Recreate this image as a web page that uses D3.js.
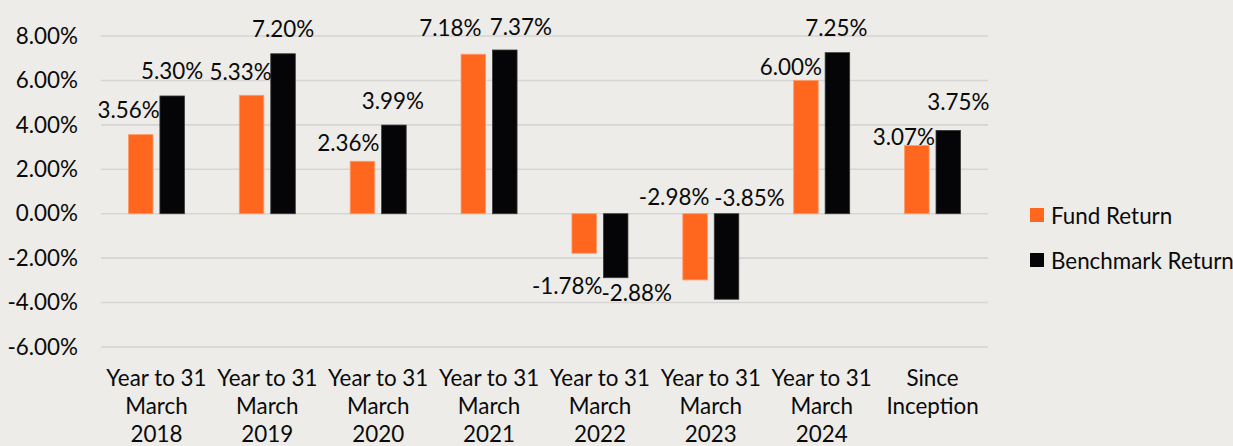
<!DOCTYPE html>
<html>
<head>
<meta charset="utf-8">
<script src="https://cdn.jsdelivr.net/npm/d3@7"></script>
<style>
  html, body { margin: 0; padding: 0; background: #EDECE8; }
  svg { display: block; }
  text { font-family: Lato, "Open Sans", sans-serif; fill: #0a0a0a; }
</style>
</head>
<body>
<svg id="chart" width="1233" height="446"></svg>
<script>
// ---- data ----
const categories = [
  ["Year to 31", "March", "2018"],
  ["Year to 31", "March", "2019"],
  ["Year to 31", "March", "2020"],
  ["Year to 31", "March", "2021"],
  ["Year to 31", "March", "2022"],
  ["Year to 31", "March", "2023"],
  ["Year to 31", "March", "2024"],
  ["Since", "Inception"]
];
const seriesNames = ["Fund Return", "Benchmark Return"];
const fundReturn = [3.56, 5.33, 2.36, 7.18, -1.78, -2.98, 6.00, 3.07];
const benchmarkReturn = [5.30, 7.20, 3.99, 7.37, -2.88, -3.85, 7.25, 3.75];
const yTicks = [-6, -4, -2, 0, 2, 4, 6, 8];

// ---- layout / style (not data) ----
const colors = ["#FF671F", "#050508"];
const strokes = ["#FF9A6A", "#3a3a3a"];
const fontSize = 22.4;
// manual label nudges (dx, dy) as placed in the original
const fundNudge = [[-12,0],[-11,1],[-14,6],[-23,-2],[-17,7],[-21,-108],[-15,11],[-13,16]];
const benchNudge = [[0,0],[0,0],[-1,0],[16,2],[21,-10],[23,-127],[-1,0],[10,-4]];

const svg = d3.select("#chart");
const plot = { left: 101, right: 988, top: 36, bottom: 347 };

const keys = categories.map((c, i) => "c" + i);
const x0 = d3.scaleBand().domain(keys).range([plot.left, plot.right]).paddingInner(0).paddingOuter(0);
const bw = x0.bandwidth();
const x1 = d3.scaleBand().domain(seriesNames)
  .range([bw / 2 - 28, bw / 2 + 28]).paddingInner(0.22).paddingOuter(0);
const y = d3.scaleLinear().domain([-6, 8]).range([plot.bottom, plot.top]);

// gridlines
svg.append("g").selectAll("line").data(yTicks).join("line")
  .attr("x1", plot.left).attr("x2", plot.right)
  .attr("y1", d => y(d)).attr("y2", d => y(d))
  .attr("stroke", "#D6D5D4").attr("stroke-width", 1.6);

// y axis labels
const yAxis = d3.axisLeft(y).tickValues(yTicks).tickSize(0).tickPadding(0)
  .tickFormat(d => d.toFixed(2) + "%");
const gy = svg.append("g").attr("transform", "translate(78,0)").call(yAxis);
gy.select(".domain").remove();
gy.selectAll("text").attr("font-size", fontSize).attr("font-family", "Lato, sans-serif").attr("fill", "#0a0a0a");

// bars
const seriesData = [fundReturn, benchmarkReturn];
seriesData.forEach((vals, s) => {
  svg.append("g").selectAll("rect").data(vals).join("rect")
    .attr("x", (d, i) => x0(keys[i]) + x1(seriesNames[s]))
    .attr("width", x1.bandwidth())
    .attr("y", d => y(Math.max(0, d)))
    .attr("height", d => Math.abs(y(d) - y(0)))
    .attr("fill", colors[s])
    .attr("stroke", strokes[s]).attr("stroke-width", 0.8);
});

// value labels
const nudges = [fundNudge, benchNudge];
seriesData.forEach((vals, s) => {
  svg.append("g").selectAll("text").data(vals).join("text")
    .attr("x", (d, i) => x0(keys[i]) + x1(seriesNames[s]) + x1.bandwidth() / 2 + nudges[s][i][0])
    .attr("y", (d, i) => (d >= 0 ? y(d) - 25 : y(d) + 25) + nudges[s][i][1])
    .attr("text-anchor", "middle")
    .attr("dominant-baseline", "central")
    .attr("font-size", fontSize)
    .text(d => d.toFixed(2) + "%");
});

// category labels
const gx = svg.append("g");
categories.forEach((lines, i) => {
  const t = gx.append("text")
    .attr("x", x0(keys[i]) + bw / 2)
    .attr("y", 377)
    .attr("text-anchor", "middle")
    .attr("dominant-baseline", "central")
    .attr("font-size", fontSize);
  lines.forEach((ln, j) => {
    t.append("tspan").attr("x", x0(keys[i]) + bw / 2).attr("dy", j === 0 ? 0 : 28).text(ln);
  });
});

// legend
const legend = svg.append("g");
seriesNames.forEach((name, s) => {
  const cy = 215 + s * 45;
  legend.append("rect").attr("x", 1030).attr("y", cy - 7).attr("width", 14).attr("height", 14)
    .attr("fill", colors[s]);
  legend.append("text").attr("x", 1051).attr("y", cy).attr("dominant-baseline", "central")
    .attr("font-size", fontSize).text(name);
});
</script>
</body>
</html>
